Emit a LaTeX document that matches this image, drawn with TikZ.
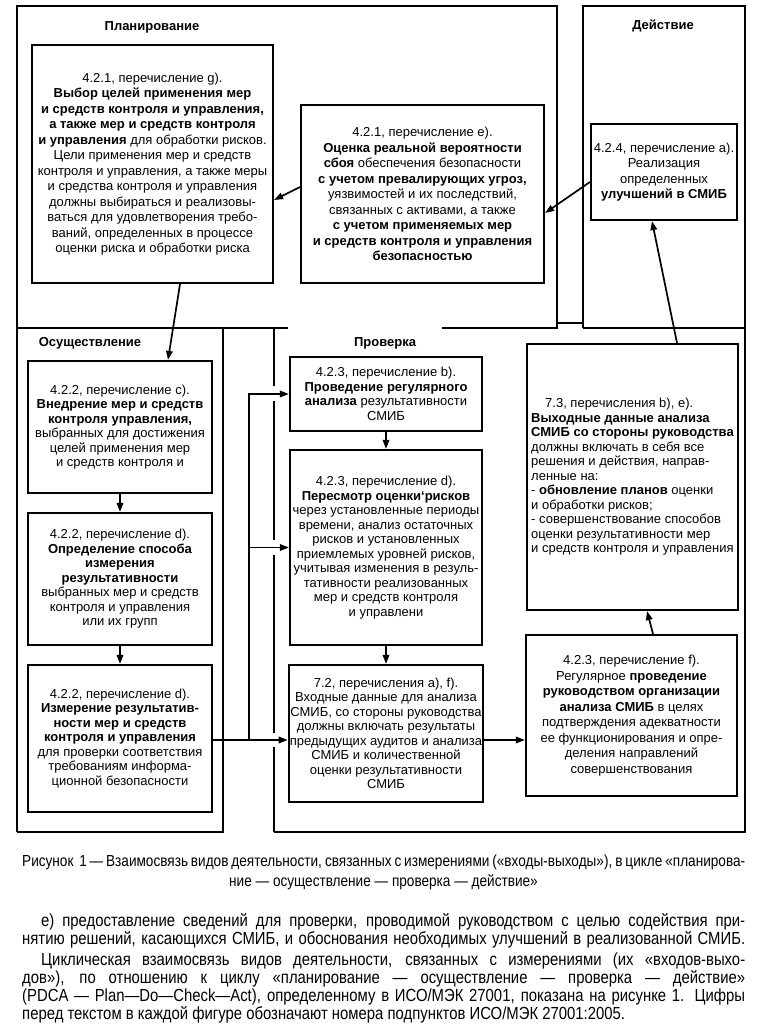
\documentclass[tikz,border=0pt]{standalone}
\usepackage{fontspec}
\setmainfont{Liberation Sans}
\newfontfamily\narrowfont[FakeStretch=0.85]{Liberation Sans}
\usetikzlibrary{arrows.meta,calc}

\begin{document}
\begin{tikzpicture}[x=1pt, y=-1pt,
        >={Triangle[length=9pt,width=6.5pt]},
        frame/.style={line width=1.8pt},
        box/.style={draw, line width=2.2pt, align=center, inner sep=1pt,
            font=\fontsize{13}{14.5}\selectfont},
        bigbox/.style={box, font=\fontsize{13}{15.5}\selectfont},
        title/.style={font=\bfseries\fontsize{13}{15}\selectfont},
        conn/.style={->, line width=1.7pt},
        txtline/.style={anchor=base west, inner sep=0pt, font=\narrowfont\fontsize{17.5}{19}\selectfont}
    ]
    \useasboundingbox (0,0) rectangle (756,1024);

    % frames of the four phases
    \draw[frame] (288,328) -- (17,328);
    \draw[frame] (17,832) -- (17,6) -- (557,6) -- (557,328) -- (442,328);
    \draw[frame] (17,832) -- (223,832) -- (223,328);
    \draw[frame] (583,328) -- (583,6) -- (745,6) -- (745,832) -- (274,832);
    \draw[frame] (583,328) -- (745,328);
    \draw[frame] (557,323) -- (583,323);
    \draw[frame] (274,328) -- (274,386) (274,401) -- (274,540)
                 (274,555) -- (274,733) (274,747) -- (274,832);

    \node[title] (tplan) at (152,27)  {Планирование};
    \node[title] (tact)  at (663,26)  {Действие};
    \node[title] (tdo)   at (90,343)  {Осуществление};
    \node[title] (tchk)  at (385,343) {Проверка};

    % Планирование
    \node[bigbox, minimum width=241pt, minimum height=238pt] (plan) at (152.5,164)
        {4.2.1, перечисление g).\\
         \textbf{Выбор целей применения мер}\\
         \textbf{и средств контроля и управления,}\\
         \textbf{а также мер и средств контроля}\\
         \textbf{и управления} для обработки рисков.\\
         Цели применения мер и средств\\
         контроля и управления, а также меры\\
         и средства контроля и управления\\
         должны выбираться и реализовы-\\
         ваться для удовлетворения требо-\\
         ваний, определенных в процессе\\
         оценки риска и обработки риска};
    \node[bigbox, minimum width=243pt, minimum height=178pt] (riskest) at (422.5,194)
        {4.2.1, перечисление e).\\
         \textbf{Оценка реальной вероятности}\\
         \textbf{сбоя} обеспечения безопасности\\
         \textbf{с учетом превалирующих угроз,}\\
         уязвимостей и их последствий,\\
         связанных с активами, а также\\
         \textbf{с учетом применяемых мер}\\
         \textbf{и средств контроля и управления}\\
         \textbf{безопасностью}};

    % Действие
    \node[bigbox, minimum width=146pt, minimum height=96pt] (improve) at (664,172)
        {4.2.4, перечисление a).\\
         Реализация\\
         определенных\\
         \textbf{улучшений в СМИБ}};

    % Осуществление
    \node[box, minimum width=184pt, minimum height=132pt] (impl) at (120,427)
        {4.2.2, перечисление c).\\
         \textbf{Внедрение мер и средств}\\
         \textbf{контроля управления,}\\
         выбранных для достижения\\
         целей применения мер\\
         и средств контроля и};
    \node[box, minimum width=184pt, minimum height=132pt] (method) at (120,579)
        {4.2.2, перечисление d).\\
         \textbf{Определение способа}\\
         \textbf{измерения}\\
         \textbf{результативности}\\
         выбранных мер и средств\\
         контроля и управления\\
         или их групп};
    \node[box, minimum width=184pt, minimum height=147pt] (measure) at (120,738.5)
        {4.2.2, перечисление d).\\
         \textbf{Измерение результатив-}\\
         \textbf{ности мер и средств}\\
         \textbf{контроля и управления}\\
         для проверки соответствия\\
         требованиям информа-\\
         ционной безопасности};

    % Проверка
    \node[box, minimum width=192pt, minimum height=74pt] (review) at (386,394)
        {4.2.3, перечисление b).\\
         \textbf{Проведение регулярного}\\
         \textbf{анализа} результативности\\
         СМИБ};
    \node[box, minimum width=192pt, minimum height=195pt] (riskrev) at (386,547.5)
        {4.2.3, перечисление d).\\
         \textbf{Пересмотр оценки`рисков}\\
         через установленные периоды\\
         времени, анализ остаточных\\
         рисков и установленных\\
         приемлемых уровней рисков,\\
         учитывая изменения в резуль-\\
         тативности реализованных\\
         мер и средств контроля\\
         и управлени};
    \node[box, minimum width=192pt, minimum height=137pt] (input) at (386,733.5)
        {7.2, перечисления a), f).\\
         Входные данные для анализа\\
         СМИБ, со стороны руководства\\
         должны включать результаты\\
         предыдущих аудитов и анализа\\
         СМИБ и количественной\\
         оценки результативности\\
         СМИБ};
    \node[box, align=left, minimum width=211pt, minimum height=266pt] (output) at (632.5,477)
        {\hspace*{14pt}7.3, перечисления b), e).\\
         \textbf{Выходные данные анализа}\\
         \textbf{СМИБ со стороны руководства}\\
         должны включать в себя все\\
         решения и действия, направ-\\
         ленные на:\\
         - \textbf{обновление планов} оценки\\
         и обработки рисков;\\
         - совершенствование способов\\
         оценки результативности мер\\
         и средств контроля и управления};
    \node[bigbox, minimum width=211pt, minimum height=161pt] (mgmt) at (631.5,715.5)
        {4.2.3, перечисление f).\\
         Регулярное \textbf{проведение}\\
         \textbf{руководством организации}\\
         \textbf{анализа СМИБ} в целях\\
         подтверждения адекватности\\
         ее функционирования и опре-\\
         деления направлений\\
         совершенствования};

    % connections
    \coordinate (bus) at (249,740);
    \draw[conn] ([yshift=7pt]riskest.west) -- ([yshift=-36pt]plan.east);
    \draw[conn] ([yshift=-10pt]improve.west) -- ([yshift=-19pt]riskest.east);
    \draw[conn] ([xshift=44.5pt]output.north) -- ([xshift=-12pt]improve.south);
    \draw[conn] ([xshift=27.5pt]plan.south) -- ([xshift=48pt]impl.north);
    \draw[conn] (impl.south) -- (method.north);
    \draw[conn] (method.south) -- (measure.north);
    \draw[conn] (review.south) -- (riskrev.north);
    \draw[conn] (riskrev.south) -- (input.north);
    \draw[conn] (measure.east |- bus) -- (input.west |- bus);
    \draw[conn] (bus) |- (review.west);
    \draw[conn] (bus |- riskrev.west) -- (riskrev.west);
    \draw[conn] (input.east |- bus) -- (mgmt.west |- bus);
    \draw[conn] ([xshift=21.5pt]mgmt.north) -- ([xshift=14.5pt]output.south);

    % caption and text
    \node[anchor=base west, inner sep=0pt, font=\narrowfont\fontsize{16}{20}\selectfont] (cap1) at (22,866)
        {\makebox[723pt][s]{Рисунок\ \ 1 — Взаимосвязь видов деятельности, связанных с измерениями («входы-выходы»), в цикле «планирова-}};
    \node[anchor=base, inner sep=0pt, font=\narrowfont\fontsize{16}{20}\selectfont] (cap2) at (383.5,886)
        {ние — осуществление — проверка — действие»};
    \node[txtline] (p1) at (41,926)
        {\makebox[704pt][s]{е) предоставление сведений для проверки, проводимой руководством с целью содействия при-}};
    \node[txtline] (p2) at (22,944)
        {\makebox[723pt][s]{нятию решений, касающихся СМИБ, и обоснования необходимых улучшений в реализованной СМИБ.}};
    \node[txtline] (p3) at (41,965)
        {\makebox[704pt][s]{Циклическая взаимосвязь видов деятельности, связанных с измерениями (их «входов-выхо-}};
    \node[txtline] (p4) at (22,983)
        {\makebox[723pt][s]{дов»), по отношению к циклу «планирование — осуществление — проверка — действие»}};
    \node[txtline] (p5) at (22,1001)
        {\makebox[723pt][s]{(PDCA — Plan—Do—Check—Act), определенному в ИСО/МЭК 27001, показана на рисунке 1. Цифры}};
    \node[txtline] (p6) at (22,1019)
        {перед текстом в каждой фигуре обозначают номера подпунктов ИСО/МЭК 27001:2005.};
\end{tikzpicture}
\end{document}
